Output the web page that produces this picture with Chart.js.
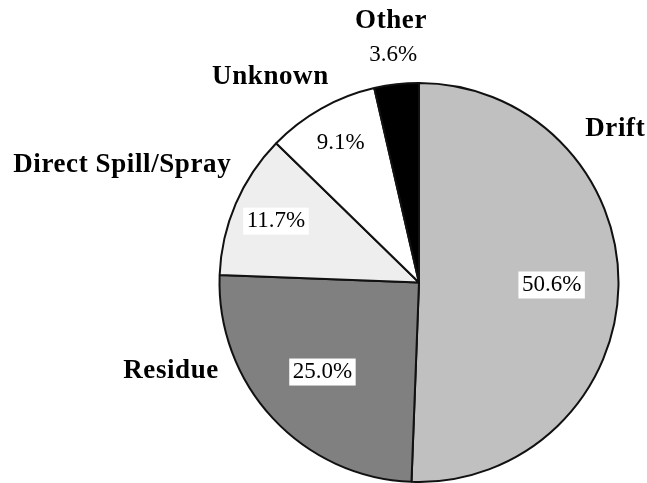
<!DOCTYPE html>
<html>
<head>
<meta charset="utf-8">
<script src="https://cdn.jsdelivr.net/npm/chart.js@4/dist/chart.umd.min.js"></script>
<style>
html,body{margin:0;padding:0;background:#fff;}
canvas{display:block;}
</style>
</head>
<body>
<canvas id="c" width="647" height="483"></canvas>
<script>
// ---- data ----
const categories = ['Drift', 'Residue', 'Direct Spill/Spray', 'Unknown', 'Other'];
const shares = [50.6, 25.0, 11.7, 9.1, 3.6];

// ---- styles / placement ----
const sliceColors = ['#c0c0c0', '#808080', '#eeeeee', '#ffffff', '#000000'];
const nameSpots = [[-38.1, 1.25], [160.3, 1.32], [201.6, 1.6], [234.1, 1.27], [263.9, 1.32]]; // [angle deg, radius factor]
const valueSpots = [0.665, 0.66, 0.78, 0.8, 1.15]; // radius factor along slice mid-angle
const valueBoxed = [true, true, true, true, false];
const serif = "'Liberation Serif', 'Times New Roman', serif";

const labelPlugin = {
  id: 'pieLabels',
  afterDatasetsDraw(chart) {
    const ctx = chart.ctx;
    const meta = chart.getDatasetMeta(0);
    ctx.save();
    ctx.textAlign = 'center';
    ctx.textBaseline = 'middle';
    meta.data.forEach((arc, i) => {
      const p = arc.getProps(['x', 'y', 'startAngle', 'endAngle', 'outerRadius'], true);
      // value label
      const mid = (p.startAngle + p.endAngle) / 2;
      const vx = p.x + Math.cos(mid) * p.outerRadius * valueSpots[i];
      const vy = p.y + Math.sin(mid) * p.outerRadius * valueSpots[i];
      const txt = shares[i].toFixed(1) + '%';
      ctx.letterSpacing = '0px';
      ctx.font = '23px ' + serif;
      if (valueBoxed[i]) {
        const w = ctx.measureText(txt).width + 7;
        ctx.fillStyle = '#ffffff';
        ctx.fillRect(vx - w / 2, vy - 13.5, w, 27);
      }
      ctx.fillStyle = '#000000';
      ctx.fillText(txt, vx, vy);
      // category name
      const a = nameSpots[i][0] * Math.PI / 180;
      const nx = p.x + Math.cos(a) * p.outerRadius * nameSpots[i][1];
      const ny = p.y + Math.sin(a) * p.outerRadius * nameSpots[i][1];
      ctx.font = 'bold 27px ' + serif;
      ctx.letterSpacing = '0.6px';
      ctx.fillText(categories[i], nx, ny);
    });
    ctx.restore();
  }
};

new Chart(document.getElementById('c'), {
  type: 'pie',
  data: {
    labels: categories,
    datasets: [{
      data: shares,
      backgroundColor: sliceColors,
      borderColor: '#111111',
      borderWidth: 2
    }]
  },
  options: {
    responsive: false,
    animation: false,
    devicePixelRatio: 1,
    layout: { padding: { left: 217, right: 26, top: 82, bottom: -3 } },
    plugins: { legend: { display: false }, tooltip: { enabled: false } }
  },
  plugins: [labelPlugin]
});
</script>
</body>
</html>
